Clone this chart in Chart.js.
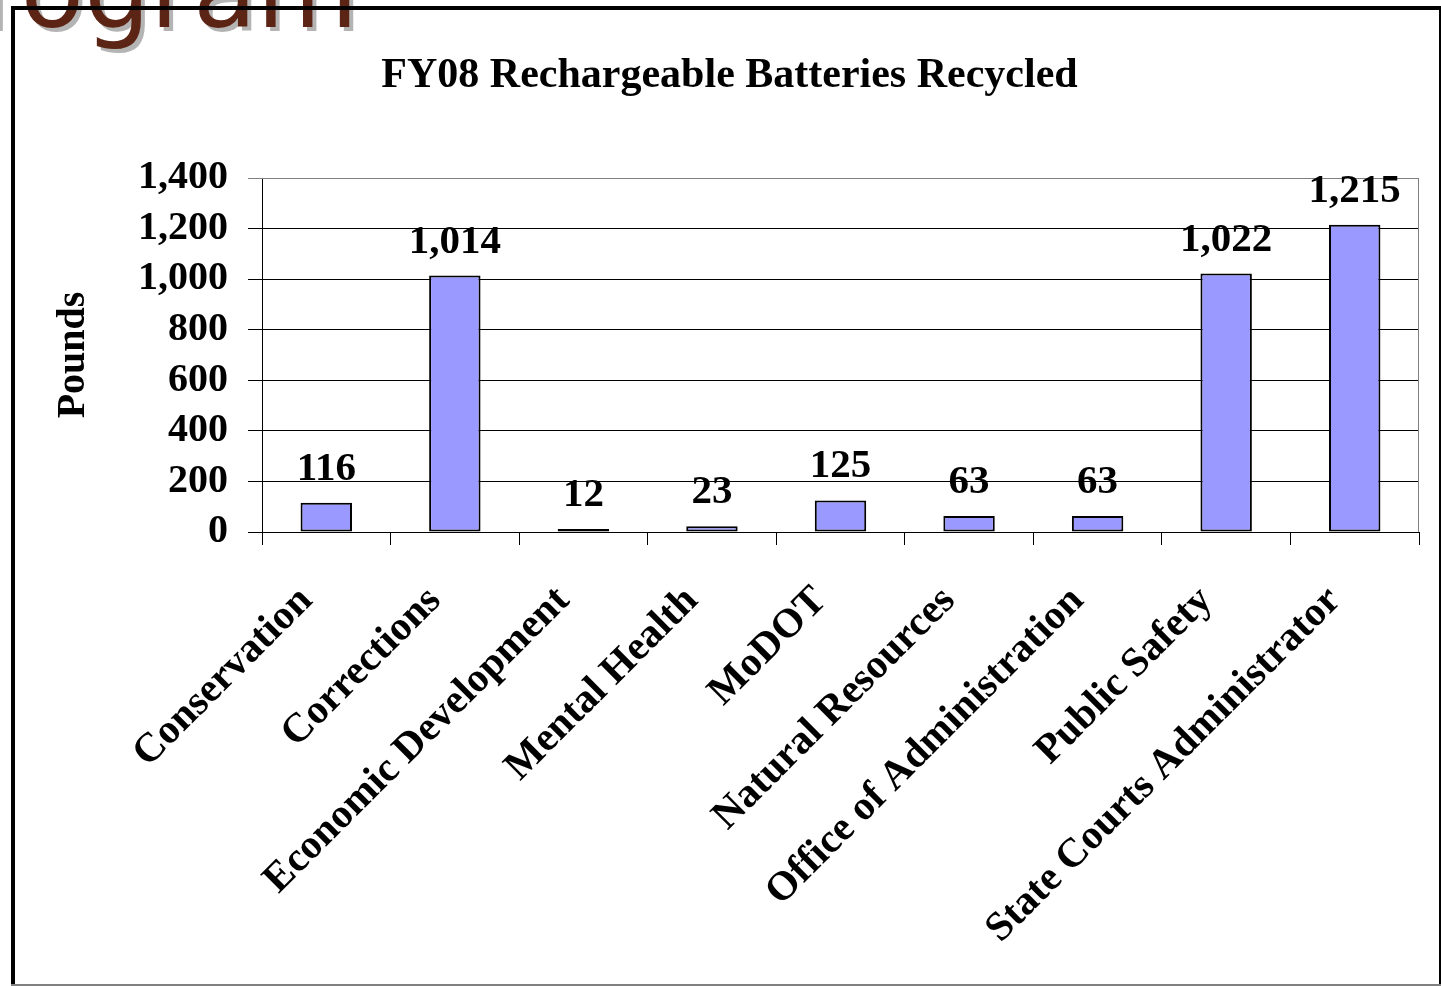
<!DOCTYPE html>
<html>
<head>
<meta charset="utf-8">
<script src="https://cdn.jsdelivr.net/npm/chart.js@4.4.1/dist/chart.umd.min.js"></script>
<style>
  html, body { margin: 0; padding: 0; background: #ffffff; overflow: hidden; }
  #wrap { position: relative; width: 1441px; height: 986px; }
</style>
</head>
<body>
<div id="wrap"><canvas id="chart" width="1441" height="986"></canvas></div>
<script>
const departments = ['Conservation', 'Corrections', 'Economic Development', 'Mental Health', 'MoDOT',
  'Natural Resources', 'Office of Administration', 'Public Safety', 'State Courts Administrator']
const pounds = [116, 1014, 12, 23, 125, 63, 63, 1022, 1215]
const yTicks = [0, 200, 400, 600, 800, 1000, 1200, 1400]

const serif = '"Liberation Serif", "Times New Roman", serif'
const fmt = v => v.toLocaleString('en-US')

// slide frame + leftover heading text behind the chart
const framePlugin = {
  id: 'frame',
  beforeDraw (chart) {
    const ctx = chart.ctx
    ctx.save()
    ctx.fillStyle = '#ffffff'
    ctx.fillRect(0, 0, chart.width, chart.height)
    ctx.font = '104px "DejaVu Sans", sans-serif'
    ctx.textAlign = 'right'
    ctx.textBaseline = 'alphabetic'
    ctx.shadowColor = '#b4b4b4'
    ctx.shadowOffsetX = 4
    ctx.shadowOffsetY = 4
    ctx.fillStyle = '#5c2414'
    ctx.fillText('Program', 358, 27)
    ctx.restore()
    ctx.save()
    ctx.fillStyle = '#000000'
    ctx.fillRect(11, 6, chart.width - 11, 4)
    ctx.fillRect(11, 6, 4, chart.height - 6)
    ctx.fillRect(chart.width - 2, 6, 2, chart.height - 6)
    ctx.fillStyle = '#808080'
    ctx.fillRect(11, chart.height - 2, chart.width - 11, 2)
    ctx.restore()
  },
  beforeDatasetsDraw (chart) {
    const a = chart.chartArea
    const ctx = chart.ctx
    ctx.save()
    ctx.strokeStyle = '#808080'
    ctx.lineWidth = 1
    ctx.beginPath()
    ctx.moveTo(a.left, a.top + 0.5)
    ctx.lineTo(a.right - 0.5, a.top + 0.5)
    ctx.lineTo(a.right - 0.5, a.bottom)
    ctx.stroke()
    ctx.restore()
  }
}

const valueLabels = {
  id: 'valueLabels',
  afterDatasetsDraw (chart) {
    const ctx = chart.ctx
    const meta = chart.getDatasetMeta(0)
    ctx.save()
    ctx.font = 'bold 41px ' + serif
    ctx.fillStyle = '#000000'
    ctx.textAlign = 'center'
    ctx.textBaseline = 'alphabetic'
    meta.data.forEach((bar, i) => {
      ctx.fillText(fmt(pounds[i]), bar.x, bar.y - 23)
    })
    ctx.restore()
  }
}

new Chart(document.getElementById('chart'), {
  type: 'bar',
  data: {
    labels: departments,
    datasets: [{
      label: 'Pounds',
      data: pounds,
      backgroundColor: '#9999ff',
      borderColor: '#000000',
      borderWidth: 2,
      borderSkipped: false,
      barPercentage: 0.4,
      categoryPercentage: 1
    }]
  },
  options: {
    responsive: false,
    animation: false,
    layout: { padding: { left: 40, right: 22, top: 0, bottom: 0 } },
    plugins: {
      legend: { display: false },
      tooltip: { enabled: false },
      title: {
        display: true,
        text: 'FY08 Rechargeable Batteries Recycled',
        color: '#000000',
        font: { family: serif, size: 42, weight: 'bold', lineHeight: 1.2 },
        padding: { top: 51, bottom: 76.6 }
      }
    },
    scales: {
      x: {
        grid: { display: true, drawOnChartArea: false, drawTicks: true, tickLength: 13, color: '#000000', offset: true },
        border: { display: true, color: '#000000', width: 1 },
        ticks: {
          color: '#000000',
          font: { family: serif, size: 41, weight: 'bold' },
          autoSkip: false,
          minRotation: 45,
          maxRotation: 45,
          padding: 32,
          labelOffset: -20
        },
        afterFit (scale) { scale.height = 986 - 532 }
      },
      y: {
        min: 0,
        max: 1400,
        afterBuildTicks (scale) { scale.ticks = yTicks.map(v => ({ value: v })) },
        grid: {
          color: ctx => (ctx.tick && ctx.tick.value === 1400 ? '#808080' : '#000000'),
          tickLength: 14,
          lineWidth: 1
        },
        border: { display: true, color: '#000000', width: 1 },
        ticks: {
          color: '#000000',
          font: { family: serif, size: 40, weight: 'bold' },
          autoSkip: false,
          padding: 20,
          callback: v => fmt(v)
        },
        title: {
          display: true,
          text: 'Pounds',
          color: '#000000',
          font: { family: serif, size: 40, weight: 'bold', lineHeight: 1.2 },
          padding: { top: 10, bottom: 0 }
        },
        afterFit (scale) { scale.width = 222 }
      }
    }
  },
  plugins: [framePlugin, valueLabels]
})
</script>
</body>
</html>
